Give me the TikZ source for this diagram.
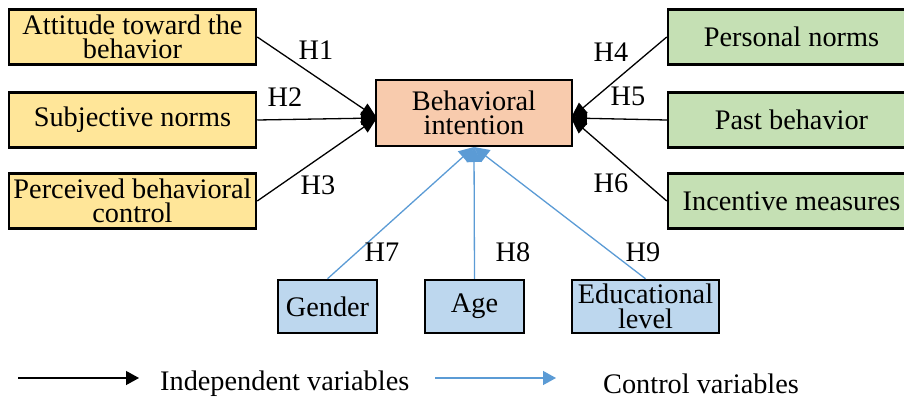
\documentclass[tikz,border=0pt]{standalone}
\usepackage{fontspec}
\setmainfont{Liberation Serif}
\usetikzlibrary{arrows.meta}
\definecolor{ylw}{HTML}{FFE699}
\definecolor{grn}{HTML}{C5E0B4}
\definecolor{peach}{HTML}{F8CBAD}
\definecolor{lblue}{HTML}{BDD7EE}
\definecolor{lineblue}{HTML}{5B9BD5}
\begin{document}
\begin{tikzpicture}[x=1pt,y=-1pt,
  every node/.style={font=\fontsize{28.3}{24.5}\selectfont, inner sep=0pt, align=center},
  box/.style={draw=black, line width=2.5pt, rectangle, anchor=center},
  sidebox/.style={box, minimum width=247pt, minimum height=55pt},
  ctrlbox/.style={box, fill=lblue, minimum height=53pt},
  indep/.style={draw=black, line width=1.3pt, -{Triangle[length=16pt,width=13pt]}},
  ctrl/.style={draw=lineblue, line width=1.3pt, -{Triangle[length=15pt,width=15pt]}},
  hlab/.style={anchor=center}
]
\useasboundingbox (0,0) rectangle (904,396);
% left boxes
\node[sidebox, fill=ylw] (att) at (132.5,37) {Attitude toward the\\behavior};
\node[sidebox, fill=ylw] (sub) at (132.5,120) {Subjective norms};
\node[sidebox, fill=ylw] (pbc) at (132.5,201) {Perceived behavioral\\control};
% right boxes
\node[sidebox, fill=grn] (pn) at (791.5,37) {Personal norms};
\node[sidebox, fill=grn] (pb) at (791.5,120) {Past behavior};
\node[sidebox, fill=grn] (im) at (791.5,201) {Incentive measures};
% center
\node[box, fill=peach, minimum width=196pt, minimum height=66pt] (bi) at (474,113) {Behavioral\\intention};
% bottom
\node[ctrlbox, minimum width=99pt] (gen) at (327.5,306.5) {Gender};
\node[ctrlbox, minimum width=99pt] (age) at (474.5,306.5) {Age};
\node[ctrlbox, minimum width=147pt] (edu) at (645.5,306.5) {Educational\\level};
% tips
\coordinate (tl) at (377,118);
\coordinate (tr) at (571,118);
\coordinate (tb) at (474,147);
% connectors
\draw[indep] (att.east) -- (tl);
\draw[indep] (sub.east) -- (tl);
\draw[indep] (pbc.east) -- (tl);
\draw[indep] (pn.west) -- (tr);
\draw[indep] (pb.west) -- (tr);
\draw[indep] (im.west) -- (tr);
\draw[ctrl] (gen.north) -- (tb);
\draw[ctrl] (age.north) -- (tb);
\draw[ctrl] (edu.north) -- (tb);
% labels
\node[hlab] (h1) at (316,50) {H1};
\node[hlab] (h2) at (285,97) {H2};
\node[hlab] (h3) at (318,185) {H3};
\node[hlab] (h4) at (611,52) {H4};
\node[hlab] (h5) at (628,96) {H5};
\node[hlab] (h6) at (611,183) {H6};
\node[hlab] (h7) at (382,252) {H7};
\node[hlab] (h8) at (513,252) {H8};
\node[hlab] (h9) at (643,252) {H9};
% legend
\coordinate (l1a) at (18,378);
\coordinate (l1b) at (139,378);
\coordinate (l2a) at (435,378);
\coordinate (l2b) at (556,378);
\draw[indep, -{Triangle[length=13pt,width=14pt]}] (l1a) -- (l1b);
\draw[ctrl, -{Triangle[length=13pt,width=14pt]}] (l2a) -- (l2b);
\node[anchor=west] (lt1) at (160,384) {Independent variables};
\node[anchor=west] (lt2) at (603,384) {Control variables};
\end{tikzpicture}
\end{document}
